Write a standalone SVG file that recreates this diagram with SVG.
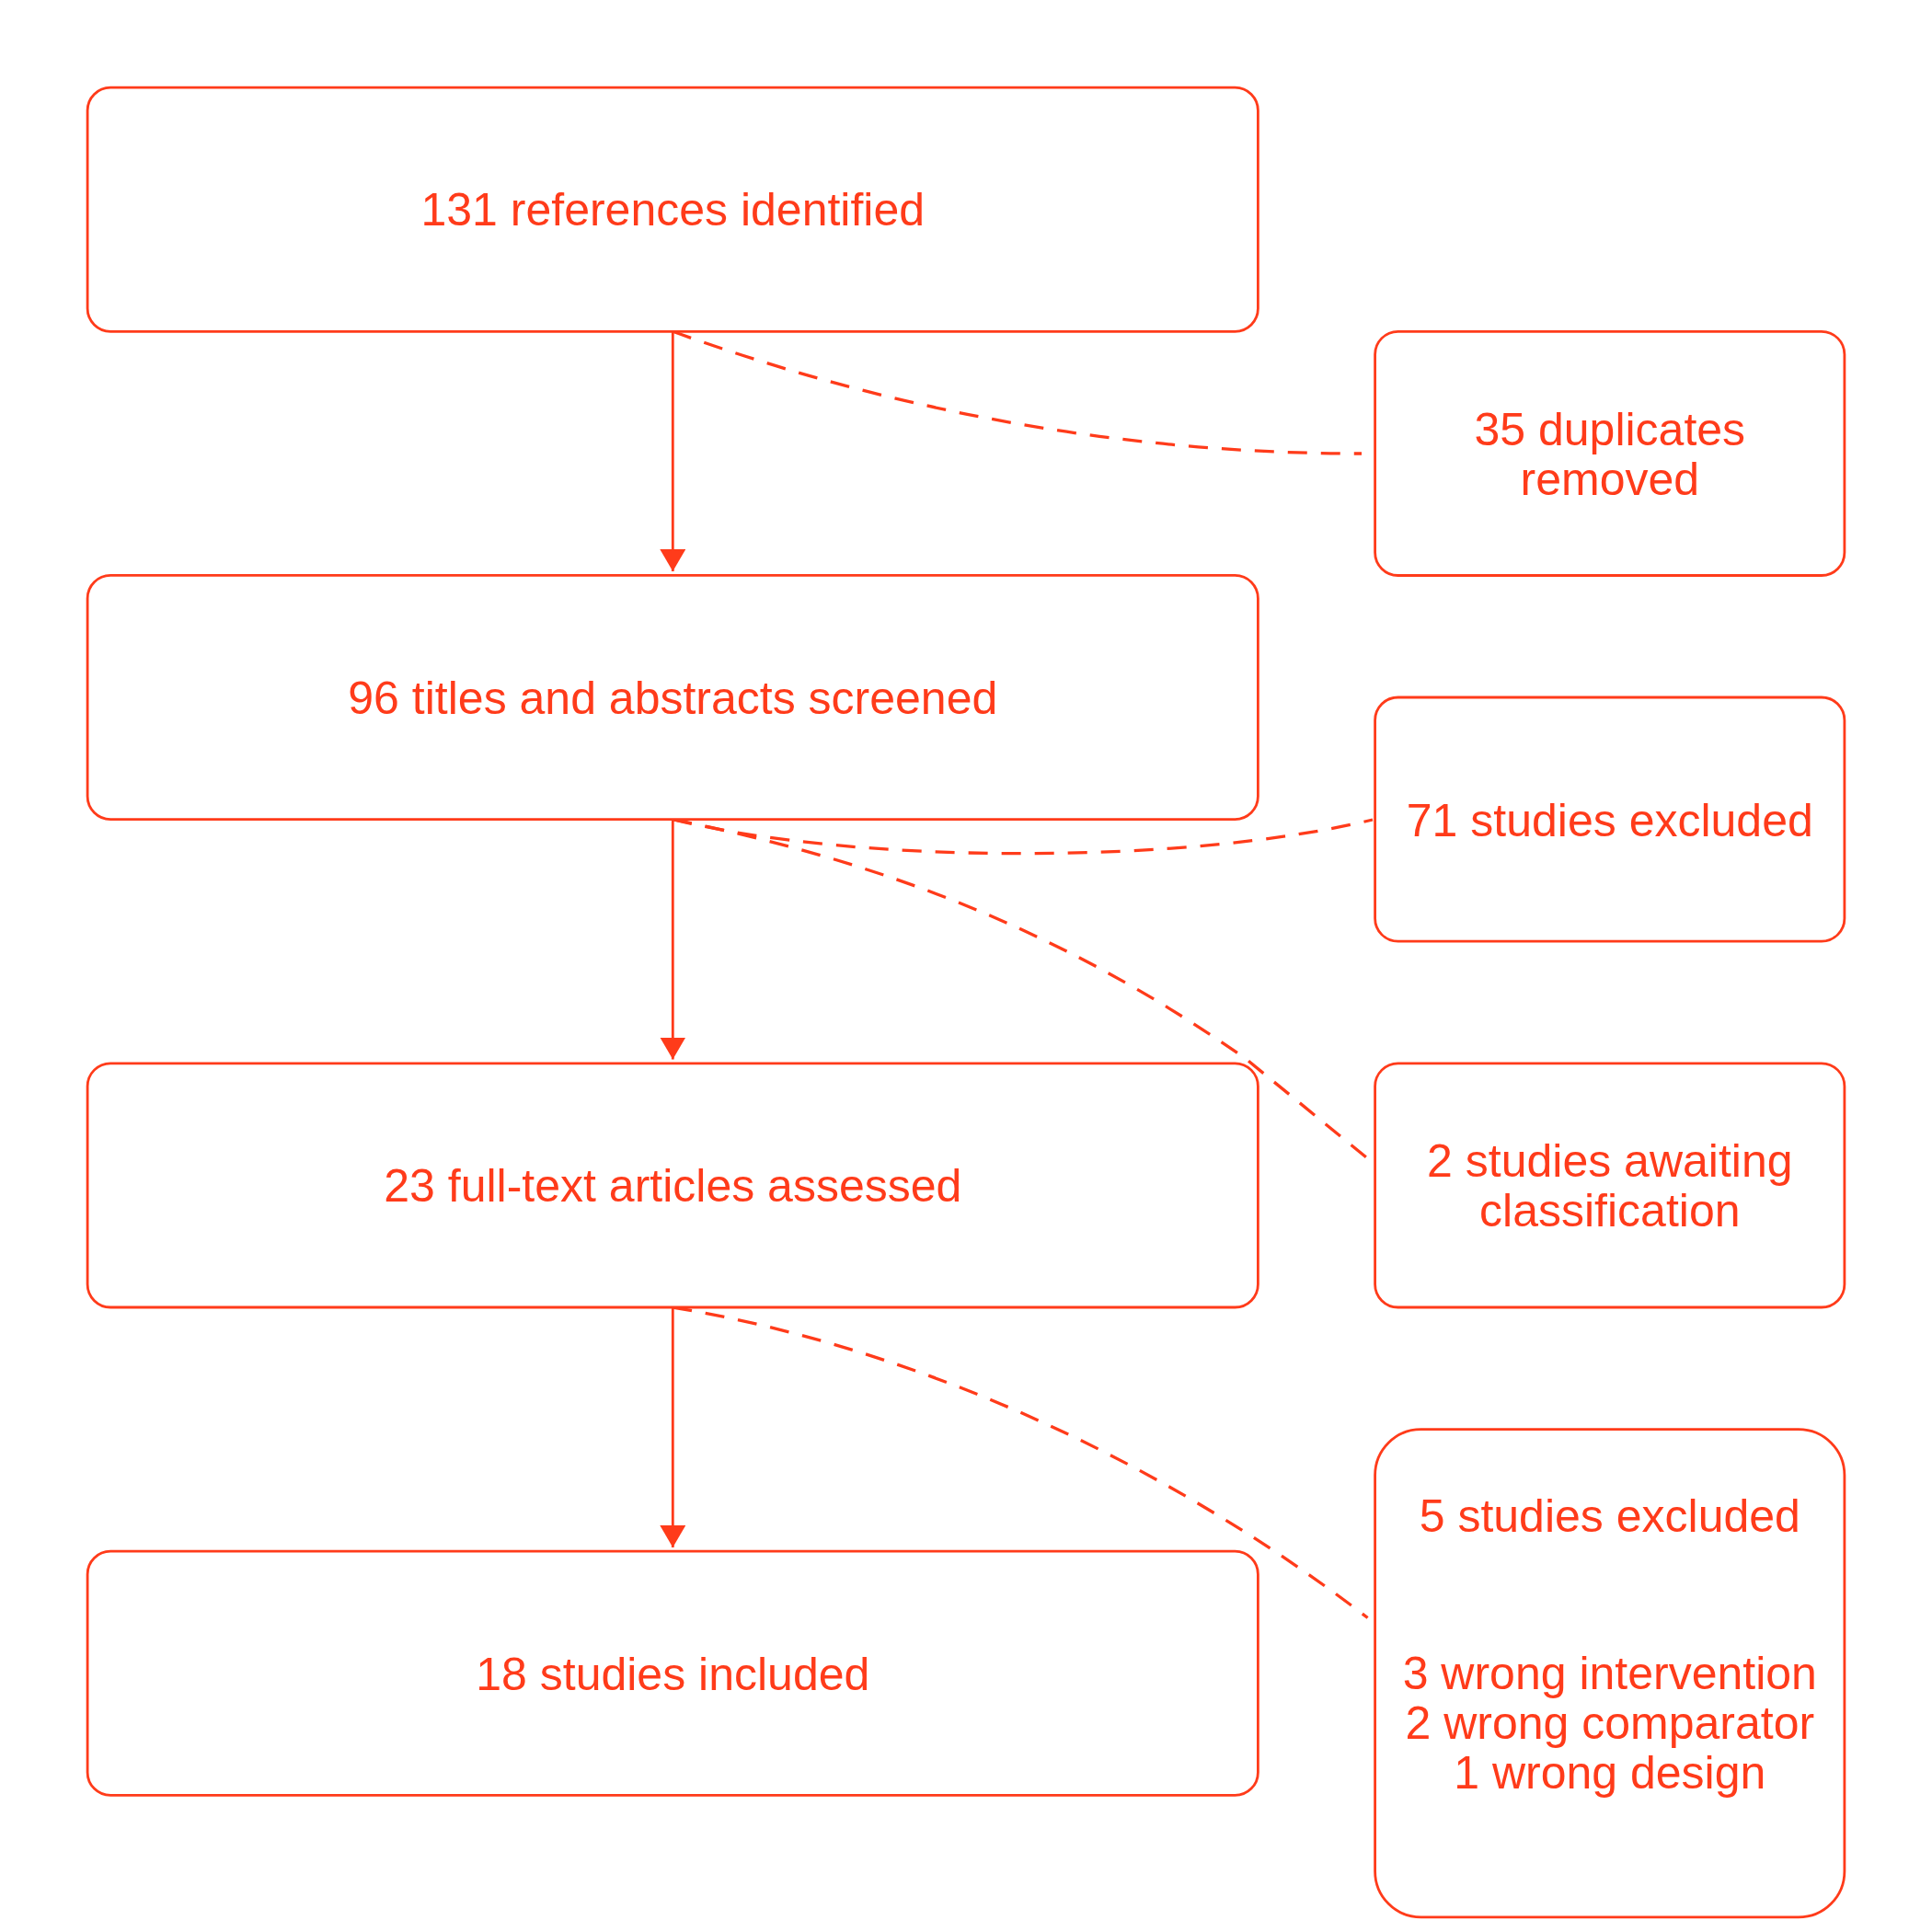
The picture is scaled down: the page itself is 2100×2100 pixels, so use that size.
<svg xmlns="http://www.w3.org/2000/svg" width="2100" height="2100" viewBox="0 0 2100 2100">
  <defs>
    <style>
      .box { fill: #ffffff; stroke: #ff3b1a; stroke-width: 2.8; }
      .lbl { font-family: "Liberation Sans", Arial, sans-serif; font-size: 50px; fill: #ff3b1a; text-anchor: middle; }
      .edge { fill: none; stroke: #ff3b1a; stroke-width: 2.8; }
      .dash { fill: none; stroke: #ff3b1a; stroke-width: 3.3; stroke-dasharray: 21 15; }
    </style>
    <marker id="arrow" markerUnits="userSpaceOnUse" markerWidth="24" markerHeight="28" viewBox="0 0 24 28" refX="24" refY="14" orient="auto">
      <path d="M0,0 L24,14 L0,28 Z" fill="#ff3b1a"/>
    </marker>
  </defs>
  <rect width="2100" height="2100" fill="#ffffff"/>

  <g id="connectors">
    <line class="edge" x1="731.3" y1="360.3" x2="731.3" y2="621" marker-end="url(#arrow)"/>
    <line class="edge" x1="731.3" y1="890.6" x2="731.3" y2="1151.5" marker-end="url(#arrow)"/>
    <line class="edge" x1="731.3" y1="1421" x2="731.3" y2="1682" marker-end="url(#arrow)"/>
    <path class="dash" d="M731.3,360.3 Q1098,493 1480,493"/>
    <path class="dash" d="M731.3,890.6 C930,940 1290,940 1492,891"/>
    <path class="dash" d="M731.3,890.6 C941,933 1143,1003 1353,1150 L1490,1262"/>
    <path class="dash" d="M731.3,1421 C1004.5,1466.5 1272.3,1593.7 1486.6,1758.5"/>
  </g>

  <g id="n1">
    <rect class="box" x="95.1" y="95.1" width="1272.3" height="265.2" rx="25" ry="25"/>
    <text class="lbl" x="731.3" y="245">131 references identified</text>
  </g>
  <g id="n2">
    <rect class="box" x="95.1" y="625.4" width="1272.3" height="265.2" rx="25" ry="25"/>
    <text class="lbl" x="731.3" y="775.5">96 titles and abstracts screened</text>
  </g>
  <g id="n3">
    <rect class="box" x="95.1" y="1155.8" width="1272.3" height="265.2" rx="25" ry="25"/>
    <text class="lbl" x="731.3" y="1306">23 full-text articles assessed</text>
  </g>
  <g id="n4">
    <rect class="box" x="95.1" y="1686.2" width="1272.3" height="265.2" rx="25" ry="25"/>
    <text class="lbl" x="731.3" y="1836.5">18 studies included</text>
  </g>

  <g id="s1">
    <rect class="box" x="1494.6" y="360.3" width="510.3" height="265.2" rx="25" ry="25"/>
    <text class="lbl" x="1749.8" y="484">35 duplicates</text>
    <text class="lbl" x="1749.8" y="537.5">removed</text>
  </g>
  <g id="s2">
    <rect class="box" x="1494.6" y="758" width="510.3" height="265.2" rx="25" ry="25"/>
    <text class="lbl" x="1749.8" y="908.5">71 studies excluded</text>
  </g>
  <g id="s3">
    <rect class="box" x="1494.6" y="1155.8" width="510.3" height="265.2" rx="25" ry="25"/>
    <text class="lbl" x="1749.8" y="1279">2 studies awaiting</text>
    <text class="lbl" x="1749.8" y="1332.5">classification</text>
  </g>
  <g id="s4">
    <rect class="box" x="1494.6" y="1553.6" width="510.3" height="530.3" rx="50" ry="50"/>
    <text class="lbl" x="1749.8" y="1665">5 studies excluded</text>
    <text class="lbl" x="1749.8" y="1836">3 wrong intervention</text>
    <text class="lbl" x="1749.8" y="1890">2 wrong comparator</text>
    <text class="lbl" x="1749.8" y="1944">1 wrong design</text>
  </g>
</svg>
